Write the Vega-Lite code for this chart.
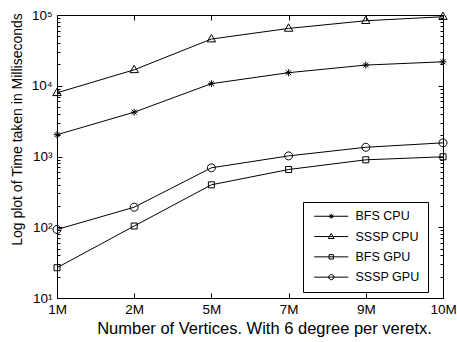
{
  "$schema": "https://vega.github.io/schema/vega-lite/v6.json",
  "autosize": {"type": "none"},
  "width": 386,
  "height": 283,
  "padding": {"left": 57, "top": 15, "right": 14, "bottom": 44},
  "background": "white",
  "config": {
    "view": {"stroke": "black", "strokeWidth": 1},
    "font": "Liberation Sans",
    "axis": {"domainColor": "black", "tickColor": "black", "labelColor": "black", "titleColor": "black", "grid": false, "labelFont": "Liberation Sans", "titleFont": "Liberation Sans", "titleFontWeight": "normal"}
  },
  "data": {
    "values": [
      {"series": "BFS CPU", "vertices": "1M", "time": 2030},
      {"series": "BFS CPU", "vertices": "2M", "time": 4230},
      {"series": "BFS CPU", "vertices": "5M", "time": 10700},
      {"series": "BFS CPU", "vertices": "7M", "time": 15300},
      {"series": "BFS CPU", "vertices": "9M", "time": 19600},
      {"series": "BFS CPU", "vertices": "10M", "time": 21800},
      {"series": "SSSP CPU", "vertices": "1M", "time": 7950},
      {"series": "SSSP CPU", "vertices": "2M", "time": 16800},
      {"series": "SSSP CPU", "vertices": "5M", "time": 45700},
      {"series": "SSSP CPU", "vertices": "7M", "time": 64600},
      {"series": "SSSP CPU", "vertices": "9M", "time": 83000},
      {"series": "SSSP CPU", "vertices": "10M", "time": 94500},
      {"series": "BFS GPU", "vertices": "1M", "time": 26.8},
      {"series": "BFS GPU", "vertices": "2M", "time": 104},
      {"series": "BFS GPU", "vertices": "5M", "time": 398},
      {"series": "BFS GPU", "vertices": "7M", "time": 655},
      {"series": "BFS GPU", "vertices": "9M", "time": 898},
      {"series": "BFS GPU", "vertices": "10M", "time": 990},
      {"series": "SSSP GPU", "vertices": "1M", "time": 93},
      {"series": "SSSP GPU", "vertices": "2M", "time": 192},
      {"series": "SSSP GPU", "vertices": "5M", "time": 692},
      {"series": "SSSP GPU", "vertices": "7M", "time": 1020},
      {"series": "SSSP GPU", "vertices": "9M", "time": 1350},
      {"series": "SSSP GPU", "vertices": "10M", "time": 1560}
    ]
  },
  "resolve": {"axis": {"x": "independent", "y": "independent"}, "scale": {"shape": "independent"}, "legend": {"shape": "independent"}},
  "layer": [
    {
      "mark": {"type": "line", "color": "black", "strokeWidth": 1},
      "encoding": {
        "x": {
          "field": "vertices", "type": "ordinal",
          "sort": ["1M", "2M", "5M", "7M", "9M", "10M"],
          "scale": {"type": "point", "padding": 0, "domain": ["1M", "2M", "5M", "7M", "9M", "10M"]},
          "axis": {
            "orient": "bottom", "labelAngle": 0, "labelFontSize": 13.5, "tickSize": -5, "labelPadding": 9,
            "domain": false,
            "title": "Number of Vertices. With 6 degree per veretx.", "titleFontSize": 16.5,
            "titleX": 207, "titleY": 30, "titleBaseline": "middle", "titleAnchor": "start", "titleAlign": "center"
          }
        },
        "y": {
          "field": "time", "type": "quantitative",
          "scale": {"type": "log", "domain": [10, 100000], "nice": false},
          "axis": {
            "orient": "left", "domain": false,
            "values": [10,20,30,40,50,60,70,80,90,100,200,300,400,500,600,700,800,900,1000,2000,3000,4000,5000,6000,7000,8000,9000,10000,20000,30000,40000,50000,60000,70000,80000,90000,100000],
            "labelExpr": "indexof([10,100,1000,10000,100000], datum.value) >= 0 ? '10' + ['¹','²','³','⁴','⁵'][round(log(datum.value)/LN10) - 1] : ''",
            "tickSize": {"condition": {"test": "indexof([10,100,1000,10000,100000], datum.value) >= 0", "value": -5}, "value": -3},
            "labelFontSize": 13.5, "labelPadding": 10,
            "title": "Log plot of Time taken in Milliseconds", "titleFontSize": 14,
            "titleX": -40, "titleY": 114, "titleAngle": -90, "titleBaseline": "middle", "titleAlign": "center", "titleAnchor": "start"
          }
        },
        "detail": {"field": "series"}
      }
    },
    {
      "mark": {"type": "point", "filled": false, "color": "black", "strokeWidth": 1, "size": 16, "opacity": 1},
      "encoding": {
        "x": {
          "field": "vertices", "type": "ordinal",
          "sort": ["1M", "2M", "5M", "7M", "9M", "10M"],
          "scale": {"type": "point", "padding": 0, "domain": ["1M", "2M", "5M", "7M", "9M", "10M"]},
          "axis": {"orient": "top", "labels": false, "tickSize": -5, "domain": false, "title": null}
        },
        "y": {
          "field": "time", "type": "quantitative",
          "scale": {"type": "log", "domain": [10, 100000], "nice": false},
          "axis": {
            "orient": "right", "labels": false, "domain": false, "title": null,
            "values": [10,20,30,40,50,60,70,80,90,100,200,300,400,500,600,700,800,900,1000,2000,3000,4000,5000,6000,7000,8000,9000,10000,20000,30000,40000,50000,60000,70000,80000,90000,100000],
            "tickSize": {"condition": {"test": "indexof([10,100,1000,10000,100000], datum.value) >= 0", "value": -5}, "value": -3}
          }
        },
        "shape": {
          "field": "series", "type": "nominal",
          "scale": {
            "domain": ["BFS CPU", "SSSP CPU", "BFS GPU", "SSSP GPU"],
            "range": [
              "M-1.75,0L1.75,0M0,-1.75L0,1.75M-1.24,-1.24L1.24,1.24M-1.24,1.24L1.24,-1.24",
              "M0,-2.3L2.1,1.4L-2.1,1.4Z",
              "M-1.5,-1.5L1.5,-1.5L1.5,1.5L-1.5,1.5Z",
              "M-2,0A2,2 0 1,0 2,0A2,2 0 1,0 -2,0"
            ]
          },
          "legend": null
        }
      }
    },
    {
      "mark": {"type": "point", "filled": false, "color": "black", "strokeWidth": 1, "size": 0},
      "encoding": {
        "x": {
          "field": "vertices", "type": "ordinal",
          "sort": ["1M", "2M", "5M", "7M", "9M", "10M"],
          "scale": {"type": "point", "padding": 0, "domain": ["1M", "2M", "5M", "7M", "9M", "10M"]},
          "axis": null
        },
        "y": {
          "field": "time", "type": "quantitative",
          "scale": {"type": "log", "domain": [10, 100000], "nice": false},
          "axis": null
        },
        "shape": {
          "field": "series", "type": "nominal",
          "scale": {
            "domain": ["BFS CPU", "SSSP CPU", "BFS GPU", "SSSP GPU"],
            "range": [
              "M-8.5,0L8.5,0M-1.2,0L1.2,0M0,-1.2L0,1.2M-0.85,-0.85L0.85,0.85M-0.85,0.85L0.85,-0.85",
              "M-8.5,0L8.5,0M0,-1.6L1.5,1L-1.5,1Z",
              "M-8.5,0L8.5,0M-1.1,-1.1L1.1,-1.1L1.1,1.1L-1.1,1.1Z",
              "M-8.5,0L8.5,0M-1.3,0A1.3,1.3 0 1,0 1.3,0A1.3,1.3 0 1,0 -1.3,0"
            ]
          },
          "legend": {
            "title": null, "orient": "none", "legendX": 246, "legendY": 187,
            "fillColor": "white", "strokeColor": "black", "padding": 8,
            "rowPadding": 7.3, "symbolOffset": 14, "labelOffset": 18,
            "symbolSize": 16, "symbolStrokeWidth": 1, "symbolStrokeColor": "black", "symbolFillColor": "transparent", "symbolOpacity": 1,
            "labelFontSize": 12.5, "labelFont": "Liberation Sans", "labelColor": "black",
            "labelExpr": "datum.label + '       '"
          }
        }
      }
    }
  ]
}
